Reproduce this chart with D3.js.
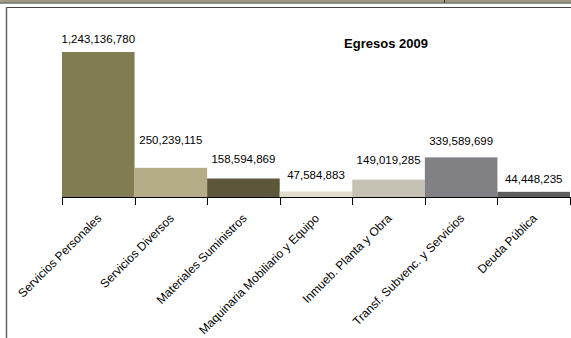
<!DOCTYPE html>
<html>
<head>
<meta charset="utf-8">
<script src="https://cdn.jsdelivr.net/npm/d3@7"></script>
<style>
  html, body { margin: 0; padding: 0; background: #fff; }
  svg { display: block; font-family: "Liberation Sans", Arial, sans-serif; }
</style>
</head>
<body>
<svg id="chart" width="571" height="338"></svg>
<script>
// datos
const categories = [
  'Servicios Personales',
  'Servicios Diversos',
  'Materiales Suministros',
  'Maquinaria Mobiliario y Equipo',
  'Inmueb. Planta y Obra',
  'Transf. Subvenc. y Servicios',
  'Deuda Pública'
];
const values = [1243136780, 250239115, 158594869, 47584883, 149019285, 339589699, 44448235];
const title = 'Egresos 2009';

// estilos
const barColors = ['#827c52', '#b5ad88', '#5c573a', '#e1ddcc', '#c5c2b3', '#818185', '#5d5d5d'];
const labelGap = [9, 24, 16, 12, 16, 12, 9];

const svg = d3.select('#chart');
const W = 571, H = 338;

// marco de la hoja
svg.append('rect').attr('x', 0).attr('y', 0).attr('width', W).attr('height', 2.5).attr('fill', '#9f9a82');
svg.append('line').attr('x1', 0).attr('x2', W).attr('y1', 3).attr('y2', 3).attr('stroke', '#333').attr('stroke-width', 1);
svg.append('line').attr('x1', 444.5).attr('x2', 444.5).attr('y1', 0).attr('y2', 3).attr('stroke', '#333');
svg.append('line').attr('x1', 6).attr('x2', W).attr('y1', 7.5).attr('y2', 7.5).attr('stroke', '#444');
svg.append('line').attr('x1', 6.5).attr('x2', 6.5).attr('y1', 7).attr('y2', H).attr('stroke', '#666').attr('stroke-width', 1.5);

const x = d3.scaleBand()
  .domain(categories)
  .range([62, 570])
  .padding(0);

const y = d3.scaleLinear()
  .domain([0, d3.max(values)])
  .range([197, 52]);

const fmt = d3.format(',');

// barras
svg.selectAll('rect.bar')
  .data(values)
  .enter()
  .append('rect')
  .attr('class', 'bar')
  .attr('x', (d, i) => x(categories[i]))
  .attr('width', x.bandwidth())
  .attr('y', d => y(d))
  .attr('height', d => y(0) - y(d))
  .attr('fill', (d, i) => barColors[i]);

// etiquetas de valor
svg.selectAll('text.val')
  .data(values)
  .enter()
  .append('text')
  .attr('class', 'val')
  .attr('x', (d, i) => x(categories[i]) + x.bandwidth() / 2)
  .attr('y', (d, i) => y(d) - labelGap[i])
  .attr('text-anchor', 'middle')
  .style('font-size', '11.5px')
  .attr('fill', '#000')
  .text(d => fmt(d));

// eje x
svg.append('line')
  .attr('x1', 62).attr('x2', 570)
  .attr('y1', 197.5).attr('y2', 197.5)
  .attr('stroke', '#000');

const edges = categories.map(c => x(c)).concat([x.range()[1]]);
svg.selectAll('line.tick')
  .data(edges)
  .enter()
  .append('line')
  .attr('class', 'tick')
  .attr('x1', d => Math.round(d) + 0.5)
  .attr('x2', d => Math.round(d) + 0.5)
  .attr('y1', 197)
  .attr('y2', 205)
  .attr('stroke', '#000');

svg.selectAll('text.cat')
  .data(categories)
  .enter()
  .append('text')
  .attr('class', 'cat')
  .attr('transform', d => `translate(${x(d) + x.bandwidth() / 2 - 2},${213}) rotate(-45)`)
  .attr('text-anchor', 'end')
  .attr('dy', '0.7em')
  .style('font-size', '12px')
  .attr('fill', '#000')
  .text(d => d);

// titulo
svg.append('text')
  .attr('x', 386)
  .attr('y', 48)
  .attr('text-anchor', 'middle')
  .style('font-size', '13px')
  .style('font-weight', 'bold')
  .attr('fill', '#000')
  .text(title);
</script>
</body>
</html>
